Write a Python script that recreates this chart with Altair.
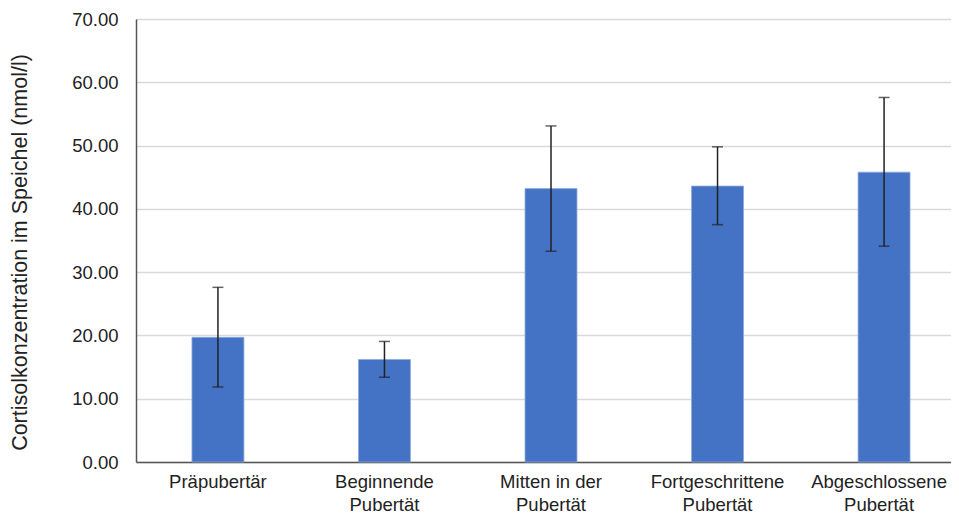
import altair as alt
import pandas as pd

categories = ["Präpubertär", "Beginnende\nPubertät", "Mitten in der\nPubertät",
              "Fortgeschrittene\nPubertät", "Abgeschlossene\nPubertät"]
means = [19.7, 16.2, 43.2, 43.6, 45.8]
lower = [11.85, 13.4, 33.3, 37.5, 34.1]
upper = [27.6, 19.05, 53.1, 49.8, 57.6]

df = pd.DataFrame({"cat": categories, "mean": means, "lo": lower, "hi": upper})

FONT = "Liberation Sans"

x_scale = alt.Scale(paddingInner=0.688, paddingOuter=0.336, range=[0, 830])

x = alt.X("cat:N", sort=categories, title=None, scale=x_scale,
          axis=alt.Axis(labelAngle=0, labelFontSize=18.5, labelFont=FONT, labelColor="#222222",
                        labelExpr="split(datum.label, '\\n')", labelLineHeight=23,
                        labelPadding=10, ticks=False, domainColor="#555555", domainWidth=1.5,
                        labelBaseline="top", labelLimit=300,
                        labelOffset={"condition": {"test": "indexof(datum.value, 'Abgeschl') == 0",
                                                   "value": -5},
                                     "value": 0}))

y_scale = alt.Scale(domain=[0, 70], nice=False)

bars = alt.Chart(df).mark_bar(color="#4472C4", stroke="#8EA9DB", strokeWidth=0.8).encode(
    x=x,
    y=alt.Y("mean:Q", scale=y_scale,
            title="Cortisolkonzentration im Speichel (nmol/l)",
            axis=alt.Axis(values=[0, 10, 20, 30, 40, 50, 60, 70], format=".2f",
                          labelFontSize=18.5, labelFont=FONT, labelColor="#222222",
                          labelPadding=18, ticks=False, domainColor="#555555", domainWidth=1.5,
                          gridColor="#d9d9d9", gridWidth=1.3,
                          titleFont=FONT, titleFontSize=21.5, titleFontWeight="normal",
                          titleColor="#222222", titleAngle=270, titleX=-116, titleY=233,
                          titleAlign="center", titleBaseline="middle")),
)

whisk = alt.Chart(df).mark_rule(color="#222222", strokeWidth=1.5).encode(
    x=alt.X("cat:N", sort=categories, scale=x_scale),
    y=alt.Y("lo:Q", scale=y_scale),
    y2="hi:Q",
)

cap_lo = alt.Chart(df).mark_tick(color="#222222", thickness=1.5, size=11).encode(
    x=alt.X("cat:N", sort=categories, scale=x_scale),
    y=alt.Y("lo:Q", scale=y_scale),
)
cap_hi = alt.Chart(df).mark_tick(color="#222222", thickness=1.5, size=11).encode(
    x=alt.X("cat:N", sort=categories, scale=x_scale),
    y=alt.Y("hi:Q", scale=y_scale),
)

chart = alt.layer(bars, whisk, cap_lo, cap_hi).properties(
    width=815, height=443,
    autosize=alt.AutoSizeParams(type="none"),
    padding={"left": 128, "top": 11, "right": 0, "bottom": 52},
).configure_view(stroke=None).configure(background="white")

chart.save("out.html", embed_options={"renderer": "svg", "actions": False})
